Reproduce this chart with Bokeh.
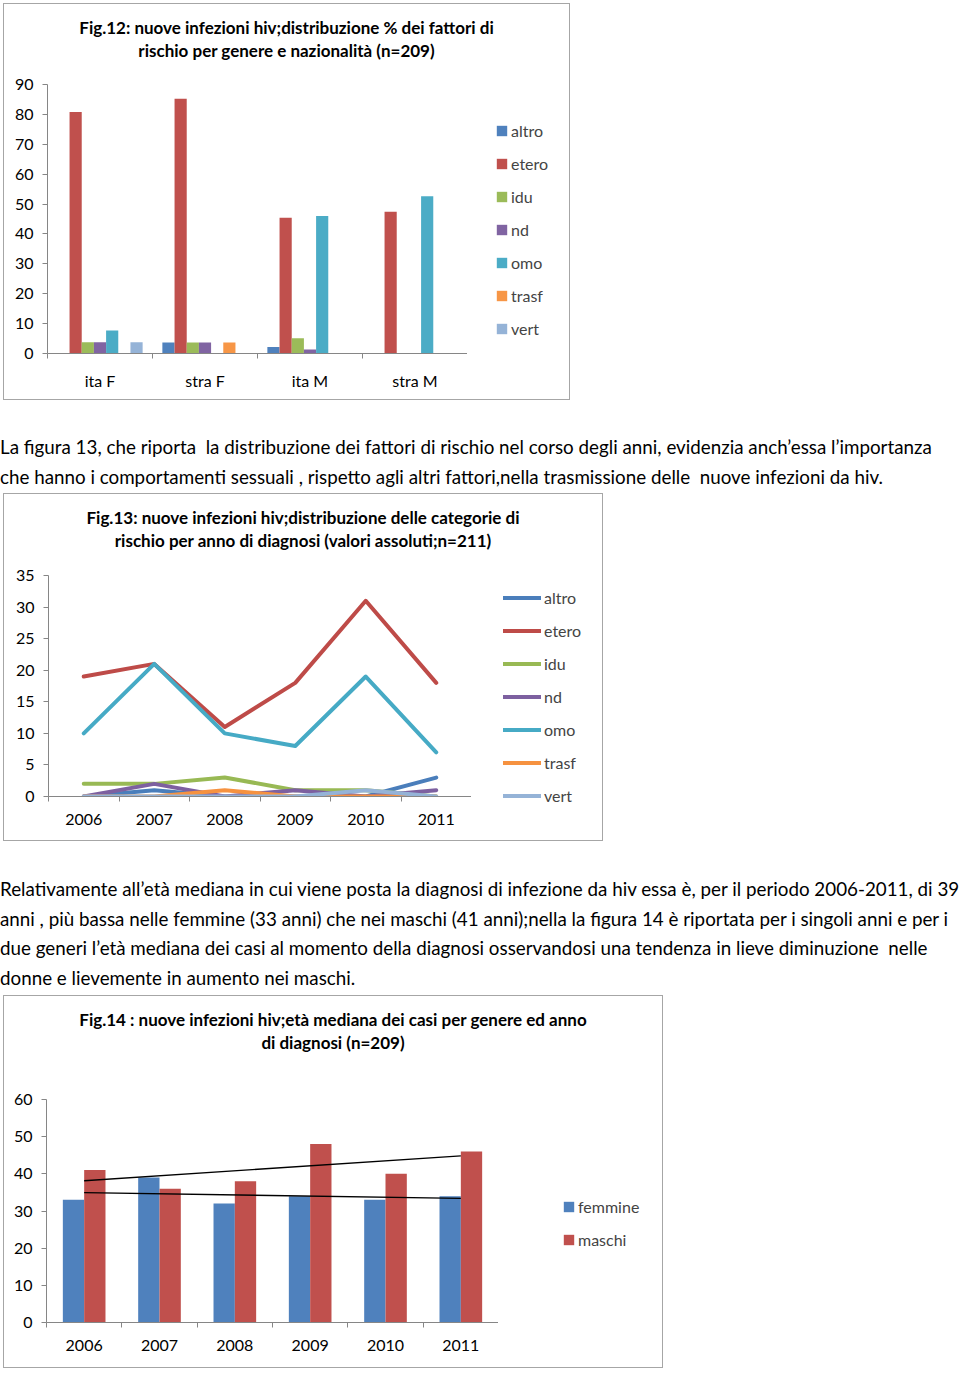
import numpy as np
from bokeh.plotting import figure
from bokeh.models import Legend, LegendItem, FixedTicker, Div, Range1d, Spacer
from bokeh.layouts import column, row
from bokeh.embed import file_html
from bokeh.resources import INLINE

# ---------------- data: Fig.12 (% per gruppo) ----------------
groups12 = ["ita F", "stra F", "ita M", "stra M"]
series12 = ["altro", "etero", "idu", "nd", "omo", "trasf", "vert"]
altro12 = [0.0, 3.7, 2.2, 0.0]
etero12 = [80.8, 85.2, 45.4, 47.4]
idu12 = [3.8, 3.7, 5.1, 0.0]
nd12 = [3.8, 3.7, 1.3, 0.0]
omo12 = [7.7, 0.0, 46.0, 52.6]
trasf12 = [0.0, 3.7, 0.0, 0.0]
vert12 = [3.8, 0.0, 0.0, 0.0]
yticks12 = [0, 10, 20, 30, 40, 50, 60, 70, 80, 90]

# ---------------- data: Fig.13 (valori assoluti per anno) ----------------
years = ["2006", "2007", "2008", "2009", "2010", "2011"]
altro13 = [0, 1, 0, 0, 0, 3]
etero13 = [19, 21, 11, 18, 31, 18]
idu13 = [2, 2, 3, 1, 1, 0]
nd13 = [0, 2, 0, 1, 0, 1]
omo13 = [10, 21, 10, 8, 19, 7]
trasf13 = [0, 0, 1, 0, 0, 0]
vert13 = [0, 0, 0, 0, 1, 0]
yticks13 = [0, 5, 10, 15, 20, 25, 30, 35]

# ---------------- data: Fig.14 (età mediana) ----------------
sexes14 = ["femmine", "maschi"]
femmine14 = [33, 39, 32, 34, 33, 34]
maschi14 = [41, 36, 38, 48, 40, 46]
yticks14 = [0, 10, 20, 30, 40, 50, 60]

title12 = ["Fig.12: nuove infezioni hiv;distribuzione % dei fattori di",
           "rischio per genere e nazionalità (n=209)"]
title13 = ["Fig.13: nuove infezioni hiv;distribuzione delle categorie di",
           "rischio per anno di diagnosi (valori assoluti;n=211)"]
title14 = ["Fig.14 : nuove infezioni hiv;età mediana dei casi per genere ed anno",
           "di diagnosi (n=209)"]

para1 = ["La figura 13, che riporta  la distribuzione dei fattori di rischio nel corso degli anni, evidenzia anch\u2019essa l\u2019importanza",
         "che hanno i comportamenti sessuali , rispetto agli altri fattori,nella trasmissione delle  nuove infezioni da hiv."]
para2 = ["Relativamente all\u2019età mediana in cui viene posta la diagnosi di infezione da hiv essa è, per il periodo 2006-2011, di 39",
         "anni , più bassa nelle femmine (33 anni) che nei maschi (41 anni);nella la figura 14 è riportata per i singoli anni e per i",
         "due generi l\u2019età mediana dei casi al momento della diagnosi osservandosi una tendenza in lieve diminuzione  nelle",
         "donne e lievemente in aumento nei maschi."]

bar_colors = ["#4F81BD", "#C0504D", "#9BBB59", "#8064A2", "#4BACC6", "#F79646", "#95B3D7"]
line_colors = ["#4A7EBB", "#BE4B48", "#98B954", "#7D60A0", "#46AAC5", "#F69240", "#95B3D7"]
sex_colors = ["#4F81BD", "#C0504D"]

FONT = "Lato"
AXC = "#868686"
BW = 1
BORDER = f"{BW}px solid #a6a6a6"


def title_div(lines, w):
    html = ('<div style="width:%dpx;text-align:center;font-family:Lato;font-weight:bold;'
            'font-size:17px;line-height:23px;padding-top:12px;white-space:nowrap;color:#000;">%s</div>'
            % (w, "<br>".join(lines)))
    return Div(text=html, width=w, height=62, margin=0)


def para_div(lines, lh, w=958):
    html = ('<div style="font-family:Lato;font-size:18.8px;line-height:%spx;white-space:pre;color:#000;">%s</div>'
            % (lh, "\n".join(lines)))
    return Div(text=html, width=w, height=int(round(lh * len(lines))), margin=0)


def make_fig(w, h, left, top, bottom, labels, yticks, fs):
    n = len(labels)
    p = figure(width=w, height=h, x_range=Range1d(0.5, n + 0.5), y_range=Range1d(0, yticks[-1]),
               output_backend="svg", toolbar_location=None,
               min_border_left=left, min_border_right=0,
               min_border_top=top, min_border_bottom=bottom)
    p.frame_align = False
    p.outline_line_color = None
    p.xgrid.visible = False
    p.ygrid.visible = False
    p.background_fill_color = "white"
    p.border_fill_color = "white"
    centers = list(range(1, n + 1))
    bounds = [i + 0.5 for i in range(0, n + 1)]
    xa = p.xaxis[0]
    xa.ticker = FixedTicker(ticks=centers, minor_ticks=bounds)
    xa.major_label_overrides = {c: lab for c, lab in zip(centers, labels)}
    xa.major_tick_out = 0
    xa.major_tick_in = 0
    xa.minor_tick_out = 5
    xa.minor_tick_in = 0
    xa.minor_tick_line_color = AXC
    xa.axis_line_color = AXC
    xa.major_label_standoff = 12
    ya = p.yaxis[0]
    ya.ticker = FixedTicker(ticks=yticks, minor_ticks=[])
    ya.major_tick_out = 5
    ya.major_tick_in = 0
    ya.major_tick_line_color = AXC
    ya.axis_line_color = AXC
    ya.major_label_standoff = 9
    for ax in (xa, ya):
        ax.major_label_text_font = FONT
        ax.major_label_text_font_size = fs
        ax.major_label_text_color = "black"
    return p


def legend_fig(w, h, names, colors, kind, x, y, gw):
    lf = figure(width=w, height=h, x_range=Range1d(0, 1), y_range=Range1d(0, 1),
                output_backend="svg", toolbar_location=None,
                x_axis_location=None, y_axis_location=None,
                min_border=0, min_border_left=0, min_border_right=0,
                min_border_top=0, min_border_bottom=0)
    lf.frame_align = False
    lf.xgrid.visible = False
    lf.ygrid.visible = False
    lf.outline_line_color = None
    lf.border_fill_color = "white"
    items = []
    for name, c in zip(names, colors):
        # invisible placeholder renderers: they only carry the legend swatch style
        if kind == "bar":
            r = lf.vbar(x=[0], top=[0], width=0, fill_color=c, line_color=None)
        else:
            r = lf.line(x=[0], y=[0], line_color=c, line_width=4, line_cap="round")
        items.append(LegendItem(label=name, renderers=[r]))
    lg = Legend(items=items, location=(x, y), margin=0, padding=5,
                glyph_width=gw, glyph_height=13, label_height=13,
                label_standoff=3, spacing=14,
                label_text_font=FONT, label_text_font_size="16px",
                border_line_color=None, background_fill_alpha=0)
    lf.add_layout(lg)
    return lf


def box(lines, fig, lfig, inner_w):
    return column(title_div(lines, inner_w), row(fig, lfig, margin=0),
                  styles={"border": BORDER}, margin=(0, 0, 0, 3))


# ---------------- Fig.12 ----------------
w1, h1 = 567 - 2 * BW, 397 - 2 * BW
fw1 = 420
fh1 = h1 - 62
bb1 = fh1 - 18 - 269
p1 = make_fig(43 + fw1, fh1, 43, 18, bb1, groups12, yticks12, "16px")
vals12 = [altro12, etero12, idu12, nd12, omo12, trasf12, vert12]
bw12 = 0.116
for j, (name, vals) in enumerate(zip(series12, vals12)):
    xs = [i + 1 + (j - 3) * bw12 for i in range(len(groups12))]
    p1.vbar(x=xs, top=vals, width=bw12, fill_color=bar_colors[j], line_color=None)
l1 = legend_fig(w1 - 43 - fw1, fh1, series12, bar_colors, "bar", 28, 15 + bb1, 13)

# ---------------- Fig.13 ----------------
w2, h2 = 600 - 2 * BW, 348 - 2 * BW
fw2 = 423
fh2 = h2 - 62
bb2 = fh2 - 19 - 221
p2 = make_fig(44 + fw2, fh2, 44, 19, bb2, years, yticks13, "16px")
vals13 = [altro13, etero13, idu13, nd13, omo13, trasf13, vert13]
xs13 = list(range(1, len(years) + 1))
for j, (name, vals) in enumerate(zip(series12, vals13)):
    p2.line(x=xs13, y=vals, line_color=line_colors[j], line_width=4,
            line_join="round", line_cap="round")
l2 = legend_fig(w2 - 44 - fw2, fh2, series12, line_colors, "line", 32, -9 + bb2, 38)

# ---------------- Fig.14 ----------------
w3, h3 = 660 - 2 * BW, 373 - 2 * BW
fw3 = 452
fh3 = h3 - 62
bb3 = fh3 - 41 - 223
p3 = make_fig(42 + fw3, fh3, 42, 41, bb3, years, yticks14, "16px")
bw14 = 0.283
xf = [i + 1 - bw14 / 2 for i in range(len(years))]
xm = [i + 1 + bw14 / 2 for i in range(len(years))]
p3.vbar(x=xf, top=femmine14, width=bw14, fill_color=sex_colors[0], line_color=None)
p3.vbar(x=xm, top=maschi14, width=bw14, fill_color=sex_colors[1], line_color=None)
idx = np.arange(1, len(years) + 1)
for vals in (maschi14, femmine14):
    k, b = np.polyfit(idx, np.array(vals, dtype=float), 1)
    ends = np.array([idx[0], idx[-1]], dtype=float)
    p3.line(x=ends, y=k * ends + b, line_color="black", line_width=1.3)
l3 = legend_fig(w3 - 42 - fw3, fh3, sexes14, sex_colors, "bar", 64, 73 + bb3, 13)

page = column(
    Spacer(height=3, width=10),
    box(title12, p1, l1, w1),
    Spacer(height=32, width=10),
    para_div(para1, 30),
    Spacer(height=1, width=10),
    box(title13, p2, l2, w2),
    Spacer(height=33, width=10),
    para_div(para2, 29.7),
    Spacer(height=2, width=10),
    box(title14, p3, l3, w3),
    margin=0,
)

open("out.html", "w").write(file_html(page, INLINE))
